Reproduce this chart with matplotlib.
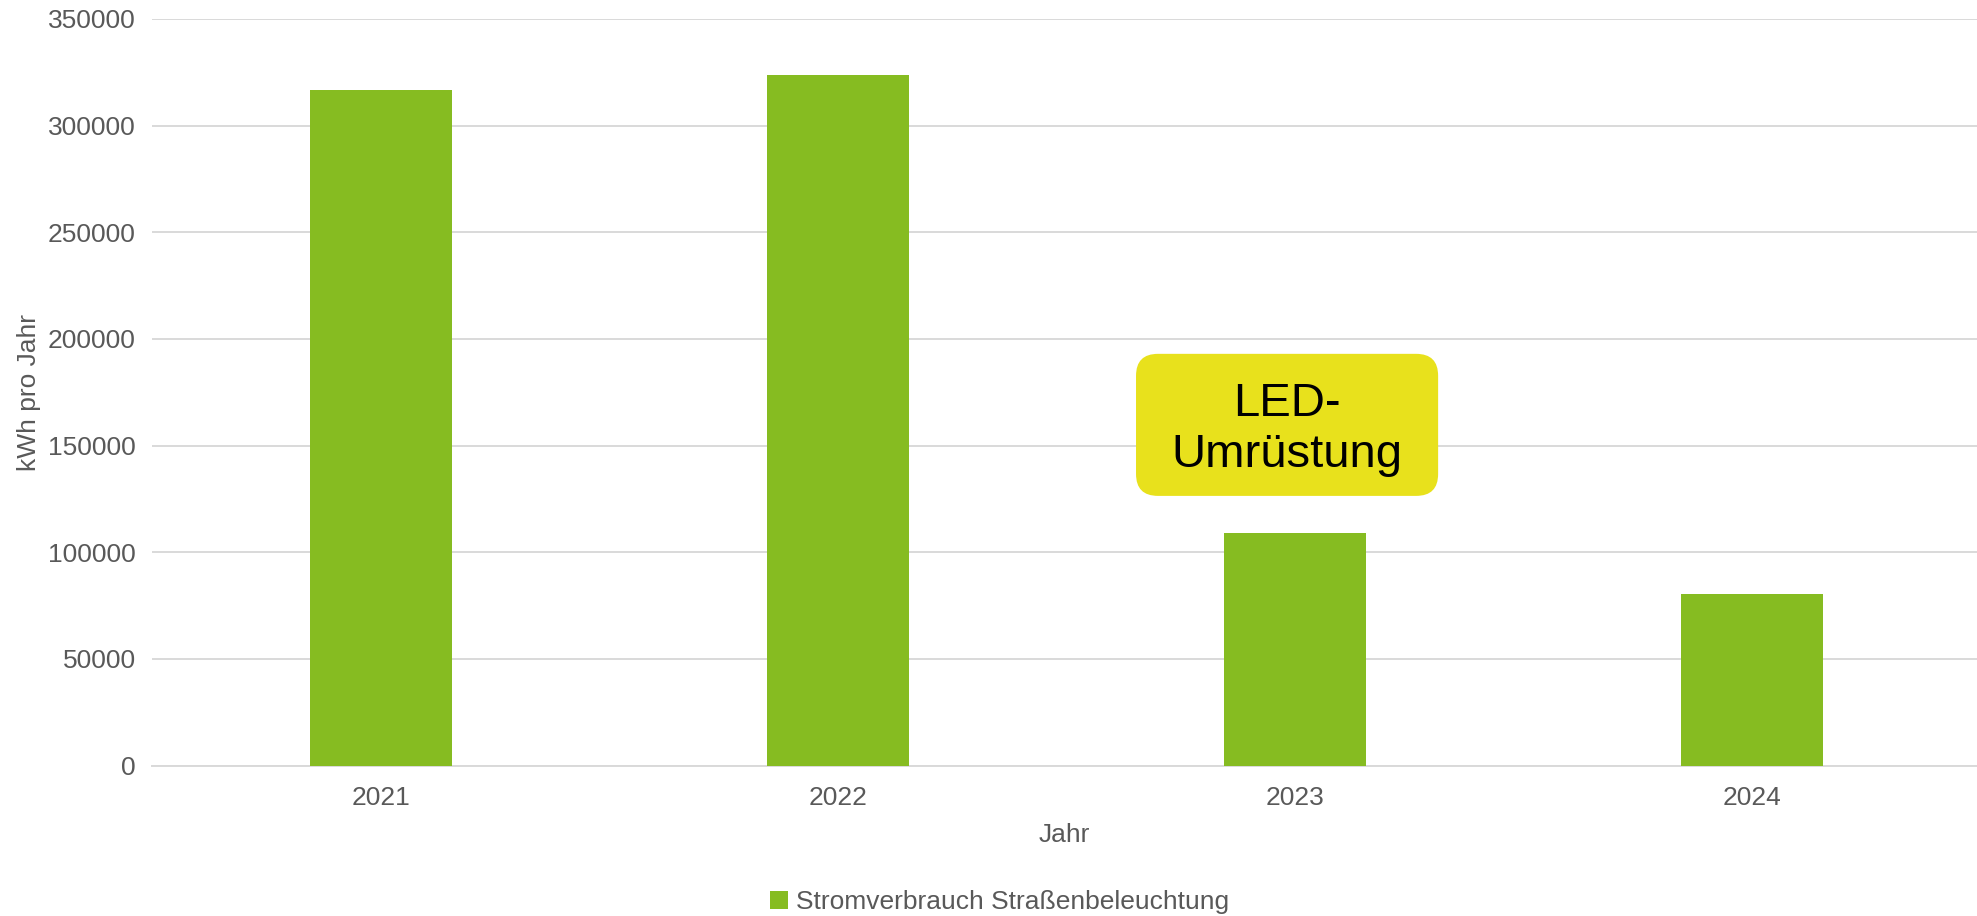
import matplotlib
matplotlib.use("Agg")
import matplotlib.pyplot as plt
from matplotlib.patches import FancyBboxPatch, Patch

years = ["2021", "2022", "2023", "2024"]
values = [316800, 323500, 109000, 80400]
series_name = "Stromverbrauch Straßenbeleuchtung"
y_ticks = [0, 50000, 100000, 150000, 200000, 250000, 300000, 350000]
annotation_text = "LED-\nUmrüstung"

plt.rcParams['font.family'] = ['Liberation Sans', 'DejaVu Sans']
BAR = '#86BC21'
GRID = '#D9D9D9'
TXT = '#595959'
FS = 19

fig = plt.figure(figsize=(19.77, 9.16), dpi=100)
ax = fig.add_axes([0.0771, 0.1643, 0.9229, 0.815])

x = list(range(len(years)))
ax.bar(x, values, width=0.311, color=BAR, zorder=3)

ax.set_xlim(-0.5, 3.492)
ax.set_ylim(0, 350000)
ax.set_yticks(y_ticks)
ax.set_yticklabels([str(v) for v in y_ticks])
ax.set_xticks(x)
ax.set_xticklabels(years)
ax.yaxis.grid(True, color=GRID, linewidth=1.4, zorder=0)
ax.set_axisbelow(True)
for s in ['top', 'right', 'left']:
    ax.spines[s].set_visible(False)
ax.spines['bottom'].set_color(GRID)
ax.spines['bottom'].set_linewidth(1.4)
ax.tick_params(axis='both', length=0, labelsize=FS, colors=TXT)
ax.tick_params(axis='y', pad=12)
ax.tick_params(axis='x', pad=15)
ax.set_xlabel("Jahr", fontsize=FS, color=TXT, labelpad=9)
ax.set_ylabel("kWh pro Jahr", fontsize=FS, color=TXT, labelpad=5)

# annotation box (rounded) in data coordinates
bx0, bx1 = 1.652, 2.313
by0, by1 = 126400, 193000
px_per_x = 457.0
px_per_y = 1.0 / 469.0
aspect = (1 / px_per_y) / (1 / px_per_x)
box = FancyBboxPatch((bx0, by0), bx1 - bx0, by1 - by0,
                     boxstyle="round,pad=0,rounding_size=0.048",
                     mutation_aspect=aspect, facecolor='#E8E11C',
                     edgecolor='none', zorder=4)
ax.add_patch(box)
ax.text((bx0 + bx1) / 2, (by0 + by1) / 2 - 2000, annotation_text, ha='center',
        va='center', fontsize=34, color='black', zorder=5, linespacing=1.2)

handles = [Patch(facecolor=BAR, edgecolor='none', label=series_name)]
fig.legend(handles=handles, loc='center', bbox_to_anchor=(0.5056, 0.015),
           frameon=False, fontsize=FS, labelcolor=TXT, handlelength=0.65,
           handleheight=0.65, handletextpad=0.3)

fig.savefig("out.png", dpi=100)
